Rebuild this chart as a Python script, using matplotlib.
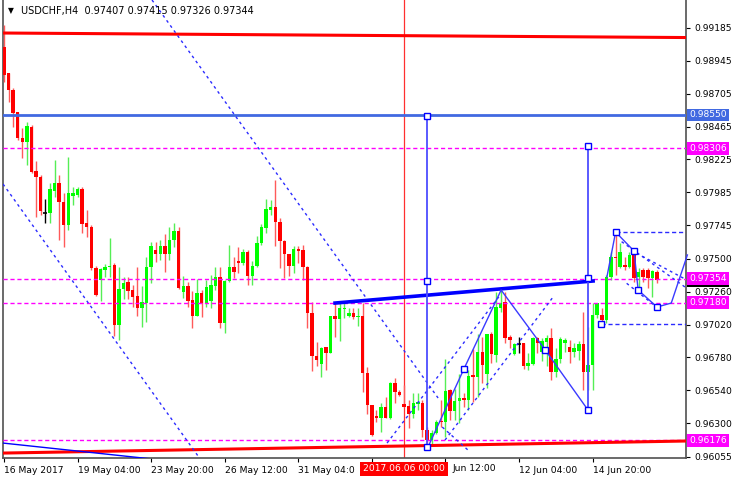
import numpy as np
import matplotlib
matplotlib.use("Agg")
import matplotlib.pyplot as plt
import matplotlib.transforms as mtransforms

# USDCHF H4 candles (open, high, low, close)
opens = [0.99046, 0.98856, 0.98732, 0.98571, 0.98382, 0.98352, 0.98462, 0.98141, 0.98097, 0.97834,
         0.97834, 0.97995, 0.98053, 0.97914, 0.97746, 0.97958, 0.97966, 0.98009, 0.97761, 0.97732,
         0.97433, 0.97345, 0.97418, 0.97440, 0.97455, 0.97016, 0.97279, 0.97330, 0.97272, 0.97228,
         0.97141, 0.97177, 0.97440, 0.97564, 0.97535, 0.97593, 0.97535, 0.97637, 0.97703, 0.97257,
         0.97301, 0.97199, 0.97082, 0.97250, 0.97177, 0.97192, 0.97301, 0.97367, 0.97031, 0.97338,
         0.97440, 0.97484, 0.97469, 0.97549, 0.97374, 0.97447, 0.97615, 0.97725, 0.97856, 0.97878,
         0.97768, 0.97630, 0.97535, 0.97447, 0.97571, 0.97564, 0.97440, 0.97104, 0.96790, 0.96732,
         0.96856, 0.96812, 0.97082, 0.97060, 0.97133, 0.97082, 0.97104, 0.97075, 0.97082, 0.96666,
         0.96432, 0.96352, 0.96338, 0.96418, 0.96338, 0.96593, 0.96528, 0.96440, 0.96425, 0.96367,
         0.96440, 0.96447, 0.96250, 0.96177, 0.96228, 0.96316, 0.96308, 0.96542, 0.96389, 0.96462,
         0.96484, 0.96469, 0.96652, 0.96637, 0.96819, 0.96659, 0.96951, 0.96797, 0.97141, 0.97184,
         0.96929, 0.96805, 0.96878, 0.96885, 0.96717, 0.96732, 0.96922, 0.96819, 0.96892, 0.96922,
         0.96673, 0.96768, 0.96885, 0.96856, 0.96819, 0.96827, 0.96878, 0.96673, 0.96724, 0.97089,
         0.97089, 0.97053, 0.97367, 0.97513, 0.97440, 0.97455, 0.97440, 0.97528, 0.97367, 0.97418,
         0.97418, 0.97360, 0.97407]
highs = [0.99206, 0.98856, 0.98747, 0.98571, 0.98455, 0.98498, 0.98476, 0.98214, 0.98111, 0.97936,
         0.98053, 0.98221, 0.98111, 0.97980, 0.98243, 0.98024, 0.98024, 0.98024, 0.97856, 0.97746,
         0.97447, 0.97433, 0.97462, 0.97652, 0.97469, 0.97440, 0.97367, 0.97367, 0.97308, 0.97440,
         0.97301, 0.97513, 0.97622, 0.97622, 0.97637, 0.97681, 0.97732, 0.97761, 0.97732, 0.97374,
         0.97330, 0.97265, 0.97352, 0.97272, 0.97345, 0.97382, 0.97440, 0.97440, 0.97345, 0.97601,
         0.97513, 0.97586, 0.97571, 0.97564, 0.97484, 0.97666, 0.97754, 0.97936, 0.97929, 0.98075,
         0.97798, 0.97637, 0.97535, 0.97593, 0.97593, 0.97601, 0.97447, 0.97184, 0.96892, 0.96856,
         0.96856, 0.97082, 0.97177, 0.97177, 0.97184, 0.97141, 0.97141, 0.97141, 0.97177, 0.96710,
         0.96432, 0.96396, 0.96447, 0.96491, 0.96600, 0.96630, 0.96542, 0.96578, 0.96469, 0.96520,
         0.96520, 0.96469, 0.96272, 0.96250, 0.96323, 0.96469, 0.96768, 0.96549, 0.96549, 0.96659,
         0.96520, 0.96688, 0.96841, 0.96951, 0.96929, 0.96951, 0.96966, 0.97257, 0.97272, 0.97257,
         0.96944, 0.96885, 0.96929, 0.96885, 0.96812, 0.96929, 0.96929, 0.96922, 0.96944, 0.96995,
         0.96849, 0.96929, 0.96922, 0.96907, 0.96885, 0.96900, 0.97111, 0.97002, 0.97177, 0.97177,
         0.97141, 0.97382, 0.97549, 0.97695, 0.97615, 0.97513, 0.97549, 0.97542, 0.97433, 0.97433,
         0.97433, 0.97418, 0.97415]
lows = [0.98790, 0.98644, 0.98462, 0.98367, 0.98236, 0.98184, 0.98126, 0.97805, 0.97819, 0.97761,
        0.97761, 0.97951, 0.97637, 0.97586, 0.97710, 0.97892, 0.97951, 0.97688, 0.97659, 0.97418,
        0.97228, 0.97192, 0.97367, 0.97367, 0.96936, 0.96907, 0.97206, 0.97206, 0.97148, 0.97082,
        0.97002, 0.97038, 0.97323, 0.97476, 0.97491, 0.97403, 0.97491, 0.97586, 0.97279, 0.97214,
        0.97148, 0.96995, 0.97082, 0.97075, 0.97148, 0.97141, 0.97272, 0.96995, 0.96958, 0.97330,
        0.97360, 0.97396, 0.97455, 0.97308, 0.97308, 0.97440, 0.97601, 0.97688, 0.97819, 0.97593,
        0.97433, 0.97360, 0.97374, 0.97396, 0.97469, 0.97345, 0.96995, 0.96681, 0.96717, 0.96637,
        0.96688, 0.96812, 0.96929, 0.96900, 0.97067, 0.97075, 0.97060, 0.97009, 0.96528, 0.96367,
        0.96206, 0.96308, 0.96235, 0.96338, 0.96330, 0.96447, 0.96498, 0.96418, 0.96265, 0.96338,
        0.96396, 0.96199, 0.96155, 0.96140, 0.96221, 0.96272, 0.96199, 0.96323, 0.96323, 0.96301,
        0.96418, 0.96396, 0.96454, 0.96491, 0.96593, 0.96557, 0.96739, 0.96746, 0.97111, 0.96885,
        0.96849, 0.96797, 0.96812, 0.96695, 0.96688, 0.96724, 0.96812, 0.96754, 0.96717, 0.96615,
        0.96637, 0.96739, 0.96819, 0.96739, 0.96783, 0.96761, 0.96542, 0.96542, 0.96542, 0.97067,
        0.97031, 0.97031, 0.97345, 0.97382, 0.97433, 0.97418, 0.97433, 0.97330, 0.97272, 0.97330,
        0.97287, 0.97221, 0.97326]
closes = [0.98841, 0.98732, 0.98564, 0.98382, 0.98352, 0.98469, 0.98133, 0.98097, 0.97849, 0.97834,
          0.98009, 0.98053, 0.97914, 0.97746, 0.97980, 0.97980, 0.98009, 0.97754, 0.97732, 0.97433,
          0.97235, 0.97426, 0.97440, 0.97447, 0.97016, 0.97279, 0.97323, 0.97265, 0.97221, 0.97141,
          0.97184, 0.97440, 0.97593, 0.97535, 0.97593, 0.97535, 0.97637, 0.97703, 0.97287, 0.97301,
          0.97192, 0.97082, 0.97250, 0.97177, 0.97294, 0.97308, 0.97367, 0.97031, 0.97338, 0.97440,
          0.97403, 0.97469, 0.97549, 0.97374, 0.97447, 0.97615, 0.97732, 0.97863, 0.97878, 0.97768,
          0.97630, 0.97535, 0.97447, 0.97571, 0.97557, 0.97440, 0.97104, 0.96790, 0.96761, 0.96849,
          0.96812, 0.97082, 0.97060, 0.97141, 0.97141, 0.97104, 0.97075, 0.97082, 0.96666, 0.96432,
          0.96213, 0.96338, 0.96418, 0.96338, 0.96593, 0.96528, 0.96506, 0.96418, 0.96367, 0.96447,
          0.96454, 0.96250, 0.96177, 0.96228, 0.96308, 0.96308, 0.96535, 0.96389, 0.96462, 0.96484,
          0.96469, 0.96644, 0.96637, 0.96819, 0.96724, 0.96951, 0.96805, 0.97148, 0.97177, 0.96922,
          0.96907, 0.96878, 0.96878, 0.96717, 0.96739, 0.96922, 0.96885, 0.96900, 0.96922, 0.96673,
          0.96768, 0.96914, 0.96907, 0.96819, 0.96849, 0.96878, 0.96673, 0.96724, 0.97089, 0.97177,
          0.97053, 0.97367, 0.97513, 0.97506, 0.97549, 0.97440, 0.97528, 0.97360, 0.97403, 0.97367,
          0.97360, 0.97411, 0.97344]

# date labels as they show on the axis (the cursor box hides part of two of them)
date_ticks = [0, 16, 32, 48, 64, 80, 96, 112, 128]
date_labels = ["16 May 2017", "19 May 04:00", "23 May 20:00", "26 May 12:00", "31 May 04:0",
               "", "", "12 Jun 04:00", "14 Jun 20:00"]
partial_label = "Jun 12:00"
price_ticks = [0.99185, 0.98945, 0.98705, 0.98465, 0.98225, 0.97985, 0.97745,
               0.97500, 0.97260, 0.97020, 0.96780, 0.96540, 0.96300, 0.96055]

level_blue = 0.98550
levels_magenta = [0.98306, 0.97354, 0.97180, 0.96176]
last_close = 0.97344
title_txt = "USDCHF,H4  0.97407 0.97415 0.97326 0.97344"
cursor_bar = 87
cursor_label = "2017.06.06 00:00"

o = np.array(opens); h = np.array(highs); l = np.array(lows); c = np.array(closes)
x = np.arange(len(c))

fig = plt.figure(figsize=(7.36, 4.80), dpi=100)
ax = fig.add_axes([3/736, 22/480, 683/736, 458/480])
ax.set_xlim(-0.2, 148.3)
ax.set_ylim(0.96046, 0.99389)

# candles
up = c > o
dn = c < o
dj = c == o
wick_col = np.where(up, "#55ee55", np.where(dn, "#ff5a5a", "black"))
ax.vlines(x, l, h, colors=wick_col, lw=1.0, zorder=3)
body_col = np.where(up, "#00ff00", "#ff0000")
ax.bar(x[~dj], np.maximum(np.abs(c - o), 0.00008)[~dj], bottom=np.minimum(o, c)[~dj],
       width=0.76, color=body_col[~dj], linewidth=0, zorder=4)
ax.hlines(c[dj], x[dj] - 0.45, x[dj] + 0.45, color="black", lw=1.2, zorder=4)

# horizontal levels
ax.axhline(level_blue, color="#4169e1", lw=2, zorder=5)
for lv in levels_magenta:
    ax.axhline(lv, color="#ff00ff", lw=1, ls=(0, (3, 2)), zorder=5)

# red support/resistance lines
ax.plot([-0.2, 148.3], [0.99148, 0.99115], color="#ff0000", lw=2.2, zorder=5)
ax.plot([-0.2, 148.3], [0.96082, 0.96170], color="#ff0000", lw=2.2, zorder=5)

# cursor line
ax.axvline(cursor_bar, color="#ff3030", lw=0.9, zorder=2)

dash = (0, (2, 2.5))
blue = "#2b2bff"
# falling channel
ax.plot([32.2, 94.4], [0.99389, 0.96484], color=blue, lw=1, ls=dash, zorder=5)
ax.plot([-0.2, 43.5], [0.98046, 0.96000], color=blue, lw=1, ls=dash, zorder=5)
ax.plot([-0.2, 32.4], [0.96155, 0.96038], color="#0000ff", lw=1, zorder=5)

# rising channel
ax.plot([83.3, 107.9], [0.96155, 0.97235], color=blue, lw=1, ls=dash, zorder=5)
ax.plot([95.9, 119.4], [0.96177, 0.97221], color=blue, lw=1, ls=dash, zorder=5)
ax.plot([95.3, 100.9], [0.96272, 0.96104], color=blue, lw=1, ls=dash, zorder=5)

# neckline
ax.plot([72.0, 128.1], [0.97177, 0.97338], color="#0000ff", lw=2.6, zorder=6)

# projections
ax.plot([92.0, 92.0], [0.98542, 0.96126], color="#4d4dff", lw=1.3, zorder=6)
ax.plot([127.0, 127.0], [0.98323, 0.96396], color="#4d4dff", lw=1.3, zorder=6)
zz_x = [92.2, 100.0, 108.1, 117.7, 127.0]
zz_y = [0.96126, 0.96695, 0.97272, 0.96834, 0.96396]
ax.plot(zz_x, zz_y, color="#3a3aff", lw=1, zorder=6)

# wedge on the right
wx = [131.1, 133.0, 137.0, 137.9, 142.0, 145.1, 148.6]
wy = [0.97367, 0.97695, 0.97557, 0.97272, 0.97148, 0.97177, 0.97528]
ax.plot(wx, wy, color="#3a3aff", lw=1, zorder=6, clip_on=False)
ax.plot([133.0, 148.3], [0.97695, 0.97695], color=blue, lw=1, ls=(0, (3, 2)), zorder=5)
ax.plot([129.8, 148.3], [0.97024, 0.97024], color=blue, lw=1, ls=(0, (3, 2)), zorder=5)
ax.plot([134.3, 148.5], [0.97625, 0.97284], color=blue, lw=1, ls=dash, zorder=5)
ax.plot([137.6, 148.5], [0.97540, 0.97345], color=blue, lw=1, ls=dash, zorder=5)
ax.plot([135.4, 142.0], [0.97321, 0.97146], color=blue, lw=1, ls=dash, zorder=5)

bx = [92.0, 92.0, 92.0, 127.0, 127.0, 127.0, 100.0, 117.7, 133.0, 137.0, 137.9, 142.0, 129.8]
by = [0.98542, 0.97338, 0.96126, 0.98323, 0.97360, 0.96396, 0.96695, 0.96834,
      0.97695, 0.97557, 0.97272, 0.97148, 0.97024]
ax.plot(bx, by, ls="none", marker="s", ms=4.5, mfc="white", mec="#0000ff", mew=1, zorder=7)

# axes styling
ax.spines["top"].set_visible(False)
for s in ["left", "right", "bottom"]:
    ax.spines[s].set_color("#505050")
    ax.spines[s].set_linewidth(1.2)
ax.yaxis.tick_right()
ax.set_yticks(price_ticks)
ax.set_yticklabels([f"{p:.5f}" for p in price_ticks])
ax.tick_params(axis="y", direction="out", length=3, pad=3, labelsize=6.6, colors="black")
ax.set_xticks(date_ticks)
ax.set_xticklabels(date_labels, ha="left")
ax.tick_params(axis="x", direction="out", length=3, pad=3, labelsize=6.6)

# the "7 " of "7 Jun 12:00" is under the cursor box, so the rest starts a little right
off = mtransforms.ScaledTranslation(7/100, 0, fig.dpi_scale_trans)
trx = mtransforms.blended_transform_factory(ax.transData, ax.transAxes)
ax.text(96, -0.024, partial_label, transform=trx + off, ha="left", va="center",
        fontsize=6.6, clip_on=False)

tr = mtransforms.blended_transform_factory(ax.transAxes, ax.transData)
ax.text(1.0045, last_close, "0.97344", transform=tr, ha="left", va="center", fontsize=6.6,
        color="white", clip_on=False, zorder=8,
        bbox=dict(boxstyle="square,pad=0.2", fc="black", ec="none"))
ax.text(1.0045, level_blue, f"{level_blue:.5f}", transform=tr, ha="left", va="center",
        fontsize=6.6, color="white", clip_on=False, zorder=9,
        bbox=dict(boxstyle="square,pad=0.2", fc="#4169e1", ec="none"))
for lv in levels_magenta:
    ax.text(1.0045, lv, f"{lv:.5f}", transform=tr, ha="left", va="center", fontsize=6.6,
            color="white", clip_on=False, zorder=9,
            bbox=dict(boxstyle="square,pad=0.2", fc="#ff00ff", ec="none"))

ax.text(cursor_bar, -0.024, cursor_label, transform=trx, ha="center", va="center",
        fontsize=6.6, color="white", clip_on=False, zorder=9,
        bbox=dict(boxstyle="square,pad=0.3", fc="#ff0000", ec="none"))

fig.text(11/736, 1 - 11/480, "\u25bc", fontsize=5.5, ha="center", va="center")
fig.text(21/736, 1 - 11/480, title_txt, fontsize=7, ha="left", va="center")

fig.savefig("out.png", dpi=100)
